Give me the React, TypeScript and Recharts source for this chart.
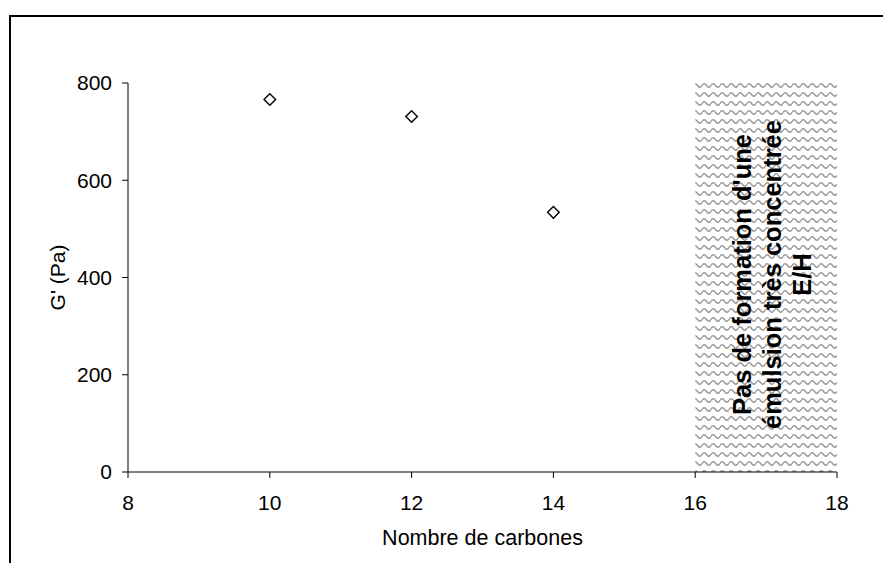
import React from 'react';
import {
  ReferenceArea,
  Scatter,
  ScatterChart,
  XAxis,
  YAxis,
} from 'recharts';

const carbons = [10, 12, 14];
const modulus = [766, 731, 534];
const xTicks = [8, 10, 12, 14, 16, 18];
const yTicks = [0, 200, 400, 600, 800];
const noEmulsionFrom = 16;
const noEmulsionTo = 18;
const noteLines = ['Pas de formation d\'une', 'émulsion très concentrée', 'E/H'];

const data = carbons.map((c, i) => ({ c, g: modulus[i] }));

const FONT = '"Liberation Sans", Arial, sans-serif';

const Diamond = (props: any) => {
  const { cx, cy } = props;
  if (cx == null || cy == null) return null;
  const r = 5.8;
  return (
    <path
      d={`M${cx},${cy - r} L${cx + r},${cy} L${cx},${cy + r} L${cx - r},${cy} Z`}
      fill="#fff"
      stroke="#000"
      strokeWidth={1.4}
    />
  );
};

// three centred lines, rotated to read bottom-to-top
const NoteLabel = (props: any) => {
  const vb = props.viewBox || {};
  const cy = vb.y + vb.height / 2 - 3;
  const base = vb.x + vb.width / 2 - 15;
  return (
    <g>
      {noteLines.map((t, i) => {
        const x = base + i * 30;
        return (
          <text
            key={t}
            x={x}
            y={cy}
            transform={`rotate(-90 ${x} ${cy})`}
            textAnchor="middle"
            fontFamily={FONT}
            fontWeight="bold"
            fontSize={25.5}
            fill="#000"
          >
            {t}
          </text>
        );
      })}
    </g>
  );
};

const XTitle = (props: any) => {
  const vb = props.viewBox || {};
  return (
    <text
      x={vb.x + vb.width / 2}
      y={545}
      textAnchor="middle"
      fontFamily={FONT}
      fontSize={21.5}
      fill="#000"
    >
      Nombre de carbones
    </text>
  );
};

const YTitle = (props: any) => {
  const vb = props.viewBox || {};
  const cy = vb.y + vb.height / 2;
  const x = 65;
  return (
    <text
      x={x}
      y={cy}
      transform={`rotate(-90 ${x} ${cy})`}
      textAnchor="middle"
      fontFamily={FONT}
      fontSize={21}
      fill="#000"
    >
      G' (Pa)
    </text>
  );
};

export default function App() {
  return (
    <div
      style={{
        position: 'fixed',
        left: 0,
        top: 0,
        width: 883,
        height: 563,
        background: '#fff',
        fontFamily: FONT,
      }}
    >
      <div
        style={{
          position: 'absolute',
          left: 9,
          top: 15,
          right: 0,
          bottom: 0,
          borderLeft: '2px solid #000',
          borderTop: '2px solid #000',
        }}
      />
      <div style={{ position: 'absolute', left: 0, top: 0 }}>
        <ScatterChart
          width={883}
          height={563}
          margin={{ top: 83, right: 46, bottom: 51, left: 0 }}
        >
          <defs>
            <pattern id="wave" width="9" height="9" patternUnits="userSpaceOnUse">
              <path
                d="M0,4.5 Q2.25,1 4.5,4.5 T9,4.5"
                fill="none"
                stroke="#9a9a9a"
                strokeWidth={1.5}
              />
            </pattern>
          </defs>
          <ReferenceArea
            x1={noEmulsionFrom}
            x2={noEmulsionTo}
            y1={0}
            y2={800}
            fill="url(#wave)"
            fillOpacity={1}
            stroke="none"
            label={<NoteLabel />}
          />
          <XAxis
            type="number"
            dataKey="c"
            domain={[8, 18]}
            ticks={xTicks}
            height={40}
            tickSize={6}
            tickMargin={17}
            stroke="#000"
            tick={{ fill: '#000', fontSize: 21, fontFamily: FONT }}
            label={<XTitle />}
          />
          <YAxis
            type="number"
            dataKey="g"
            domain={[0, 800]}
            ticks={yTicks}
            width={128}
            tickSize={6}
            tickMargin={10}
            stroke="#000"
            tick={{ fill: '#000', fontSize: 21, fontFamily: FONT }}
            label={<YTitle />}
          />
          <Scatter data={data} shape={<Diamond />} isAnimationActive={false} />
        </ScatterChart>
      </div>
    </div>
  );
}
